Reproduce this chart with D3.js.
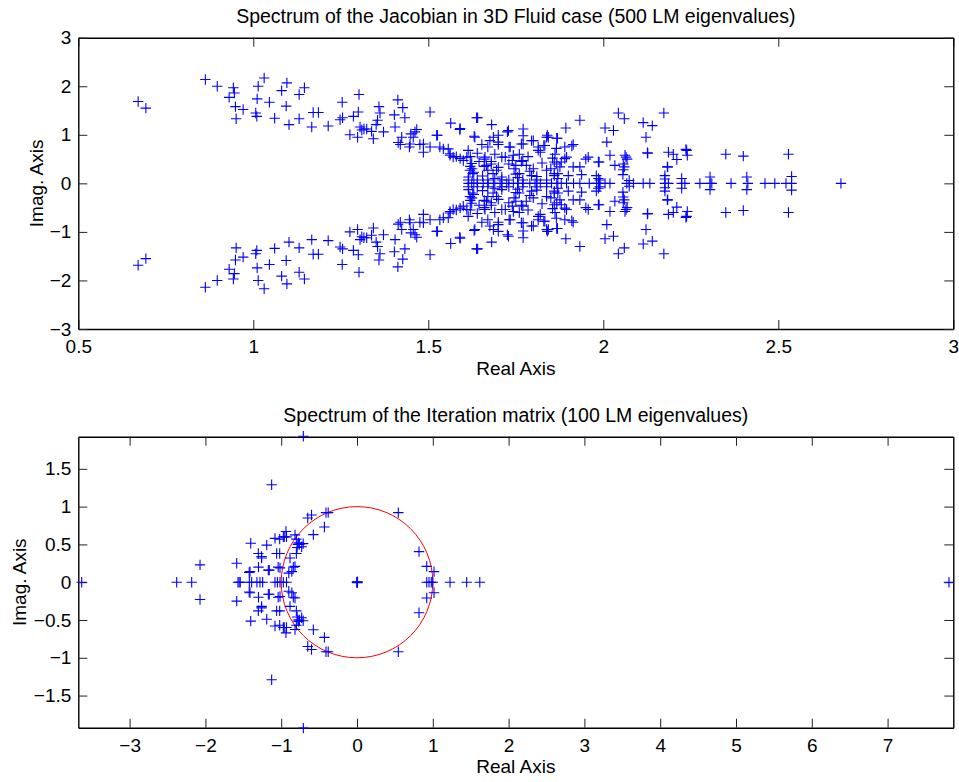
<!DOCTYPE html>
<html>
<head>
  <meta charset="utf-8" />
  <style>
    body { margin: 0; background: #fff; }
    text { font-family: "Liberation Sans", Arial, Helvetica, sans-serif; fill: #000; }
  </style>
</head>
<body>
<svg id="chart" width="959" height="782"></svg>
<script src="https://cdn.jsdelivr.net/npm/d3@7"></script>
<script>

// eigenvalues with positive imaginary part (conjugates are plotted too) + real ones
const jacUpper = [
  [0.671,1.687],[0.693,1.55],[0.863,2.14],[0.897,2.0],[0.943,1.97],[0.931,1.77],[0.946,1.86],[0.949,1.58],
  [0.971,1.52],[0.951,1.33],[1.007,1.45],[1.01,1.38],[1.014,2.0],[1.031,2.17],[1.011,1.74],[1.046,1.67],
  [1.061,1.34],[1.081,1.91],[1.096,2.07],[1.094,1.59],[1.102,1.21],[1.131,1.83],[1.146,1.97],[1.131,1.33],
  [1.167,1.16],[1.171,1.46],[1.186,1.46],[1.214,1.18],[1.254,1.67],[1.248,1.31],[1.255,1.35],[1.302,1.83],
  [1.3,1.47],[1.286,1.38],[1.276,1.0],[1.298,0.95],[1.305,1.16],[1.316,1.12],[1.31,1.1],[1.343,0.92],
  [1.355,1.3],[1.359,1.58],[1.362,1.45],[1.372,1.06],[1.351,1.21],[1.338,1.07],[1.324,1.12],[1.403,1.41],
  [1.413,1.72],[1.427,1.56],[1.433,1.35],[1.405,1.16],[1.414,0.84],[1.424,0.95],[1.42,0.8],[1.446,0.75],
  [1.457,0.95],[1.462,1.06],[1.45,1.02],[1.467,1.11],[1.448,0.81],[1.486,0.81],[1.486,0.64],[1.505,1.47],
  [1.524,0.99],[1.564,1.24],[1.591,1.13],[1.633,0.95],[1.638,1.35],[1.505,0.75],[1.543,0.71],[1.562,0.61],
  [1.571,0.54],[1.591,0.51],[1.61,0.54],[1.624,0.41],[1.619,0.27],[1.615,0.13],[1.627,0.2],
  [2.043,1.45],[2.06,1.33],[2.173,1.45],[2.114,1.25],[2.14,1.19],[2.122,0.95],[1.933,1.3],[1.893,1.14],
  [2.005,1.14],[2.029,1.09],[2.01,0.85],[2.127,0.62],[2.062,0.58],[2.068,0.5],[2.186,0.64],[2.2,0.6],
  [2.21,0.49],[2.238,0.68],[2.24,0.58],[2.35,0.6],[2.4,0.56],[2.529,0.6],[2.184,0.34],[2.176,0.16],
  [2.305,0.13],[2.41,0.13],[2.538,0.14],[1.914,0.8],[1.89,0.75],[1.957,0.54],[1.95,0.5],[1.986,0.44],
  [2.019,0.58],[2.033,0.37],[2.057,0.4],[2.057,0.28],[1.933,0.34],[1.895,0.54],[1.88,0.44],[1.867,0.4],
  [1.862,0.6],[1.867,0.93],[1.843,0.95],[1.814,0.75],[1.83,0.78],[1.82,0.64],[1.8,0.88],[1.771,1.12],
  [1.771,0.98],[1.766,0.81],[1.76,0.6],[1.766,0.45],[1.729,1.09],[1.734,0.75],[1.71,0.54],[1.7,0.85],
  [1.681,1.21],[1.686,0.95],[1.67,0.75],[1.68,0.45],[1.66,0.5],[1.66,0.35],[1.67,0.27],[1.743,0.58],
  [1.75,0.37],[1.75,0.19],[1.8,0.3],[1.838,0.27],[1.86,0.16],[1.87,0.2],[1.98,0.16],[1.99,0.07],
  [1.9,0.16],[1.71,0.13],[1.69,0.1],
  [1.59,1.11],[1.641,1.35],[1.726,1.06],[1.795,0.88],[1.631,0.97],[1.676,0.88],[1.7,0.99],[1.653,0.8],
  [1.70,0.8],[1.731,0.75],[1.771,0.81],[1.814,0.68],[1.833,0.78],[1.838,0.95],[1.526,0.99],[1.533,0.75],
  [1.476,0.8],[1.557,0.71],[1.562,0.58],[1.58,0.55],[1.6,0.47],[1.614,0.68],[1.62,0.55],[1.64,0.62],
  [1.662,0.54],[1.666,0.37],[1.68,0.4],[1.695,0.27],[1.685,0.2],[1.62,0.35],[1.63,0.23],[1.614,0.07],
  [1.64,0.07],[1.72,0.54],[1.73,0.4],[1.745,0.3],[1.76,0.2],[1.77,0.47],[1.78,0.37],[1.79,0.25],
  [1.81,0.07],[1.77,0.07],[1.73,0.07],[1.71,0.07],[1.67,0.07],[1.838,0.07],[1.81,0.14],
  [1.84,0.99],[1.869,0.93],[1.91,0.77],[1.866,0.72],[2.065,0.54],[1.988,0.44],[2.06,0.34],[2.126,0.63],
  [2.236,0.7],[2.183,0.34],[1.914,0.34],[1.938,0.18],[1.89,0.51],[1.876,0.34],[1.86,0.44],[1.86,0.2],
  [1.87,0.1],[1.986,0.1],[2.056,0.18],[2.074,0.06],[2.176,0.09],[2.224,0.1],
  [1.625,0.3],[1.645,0.45],[1.655,0.15],[1.69,0.6],[1.7,0.33],[1.74,0.47],[1.755,0.12],[1.785,0.55],
  [1.795,0.16],[1.825,0.42],[1.85,0.3],[1.855,0.52]
]
const jacReal = [1.615,1.624,1.63,1.64,1.657,1.671,1.686,1.705,1.724,1.743,1.757,1.771,1.79,1.805,1.82,
  1.838,1.852,1.867,1.88,1.895,1.915,1.933,1.96,1.981,1.99,2.005,2.019,2.067,2.086,2.114,2.133,2.176,
  2.186,2.224,2.233,2.276,2.305,2.31,2.365,2.413,2.462,2.49,2.522,2.538,2.679]

const iterUpper = [
  [-2.071,0.229],[-1.587,0.25],[-1.412,0.14],[-1.402,0.515],[-1.302,0.38],[-1.26,0.34],[-1.258,0.32],
  [-1.30,0.2],[-1.191,0.49],[-1.157,0.16],[-1.126,1.29],[-1.082,0.58],[-1.06,0.38],[-1.02,0.38],
  [-1.04,0.2],[-1.016,0.19],[-0.972,0.6],[-0.937,0.67],[-0.93,0.6],[-0.96,0.6],[-1.02,0.57],
  [-0.818,0.626],[-0.8,0.57],[-0.78,0.5],[-0.77,0.52],[-0.76,0.5],[-0.79,0.46],[-0.884,0.32],
  [-0.818,0.21],[-0.9,0.12],[-0.84,0.2],[-0.86,0.14],[-0.73,0.47],[-0.71,0.51],[-0.8,0.38],
  [-0.576,0.63],[-0.43,0.73],[-0.65,0.85],[-0.6,0.89],[-0.409,0.92],[-0.38,0.92],[0.545,0.92],
  [0.818,0.405],[0.92,0.21],[1.016,0.14],[-0.708,1.93],[-1.422,0.13],[-1.17,0.16],[0.004,0.006]
]
const iterReal = [-3.632,-2.379,-2.181,-1.57,-1.555,-1.54,-1.42,-1.39,-1.32,-1.28,-1.245,-1.082,-1.05,
  -1.016,-0.972,-0.93,0,0,0.007,0.92,0.95,0.98,1.0,1.227,1.447,1.62,7.81]

const jacXTicks = [0.5,1,1.5,2,2.5,3]
const jacYTicks = [-3,-2,-1,0,1,2,3]
const iterXTicks = [-3,-2,-1,0,1,2,3,4,5,6,7]
const iterYTicks = [-1.5,-1,-0.5,0,0.5,1,1.5]

const fmt = d => (d < 0 ? '\u2212' : '') + Math.abs(d)

const withConj = (upper, real) =>
  upper.flatMap(([re, im]) => [[re, im], [re, -im]]).concat(real.map(r => [r, 0]))

const svg = d3.select('#chart')

function panel(cfg){
  const x = d3.scaleLinear().domain(cfg.xDomain).range([78.3, 953.3])
  const y = d3.scaleLinear().domain(cfg.yDomain).range([cfg.bottom, cfg.top])
  const g = svg.append('g')
  const tick = 9

  g.append('g').attr('transform', `translate(0,${cfg.bottom})`)
    .call(d3.axisBottom(x).tickValues(cfg.xTicks).tickFormat(fmt).tickSize(-tick).tickSizeOuter(0).tickPadding(10.5))
  g.append('g').attr('transform', `translate(0,${cfg.top})`)
    .call(d3.axisTop(x).tickValues(cfg.xTicks).tickFormat('').tickSize(-tick).tickSizeOuter(0))
  g.append('g').attr('transform', `translate(78.3,0)`)
    .call(d3.axisLeft(y).tickValues(cfg.yTicks).tickFormat(fmt).tickSize(-tick).tickSizeOuter(0).tickPadding(7))
  g.append('g').attr('transform', `translate(953.3,0)`)
    .call(d3.axisRight(y).tickValues(cfg.yTicks).tickFormat('').tickSize(-tick).tickSizeOuter(0))

  g.selectAll('.domain').attr('stroke', '#000').attr('stroke-width', 1.4)
  g.selectAll('.tick line').attr('stroke', '#222')
  g.selectAll('.tick text').style('font-size', '19px').attr('fill', '#000')
    .style('font-family', '"Liberation Sans", Arial, Helvetica, sans-serif')

  if (cfg.circle) {
    g.append('ellipse')
      .attr('cx', x(0)).attr('cy', y(0))
      .attr('rx', x(1) - x(0)).attr('ry', y(0) - y(1))
      .attr('fill', 'none').attr('stroke', '#ff0000').attr('stroke-width', 1)
  }

  const r = 5.2
  g.append('g').selectAll('path').data(cfg.points).join('path')
    .attr('d', d => {
      const px = x(d[0]), py = y(d[1])
      return `M${px - r},${py}H${px + r}M${px},${py - r}V${py + r}`
    })
    .attr('stroke', '#0000ff').attr('stroke-width', 1.1).attr('fill', 'none')

  g.append('text').attr('x', 515.8).attr('y', cfg.titleY).attr('text-anchor', 'middle')
    .style('font-size', '19.5px').text(cfg.title)
  g.append('text').attr('x', 515.8).attr('y', cfg.xLabelY).attr('text-anchor', 'middle')
    .style('font-size', '19px').text('Real Axis')
  g.append('text').attr('transform', `translate(${cfg.yLabelX},${(cfg.top + cfg.bottom) / 2}) rotate(-90)`)
    .attr('text-anchor', 'middle').style('font-size', '19px').text('Imag. Axis')
}

panel({
  title: 'Spectrum of the Jacobian in 3D Fluid case (500 LM eigenvalues)',
  xDomain: [0.5, 3], yDomain: [-3, 3],
  xTicks: jacXTicks, yTicks: jacYTicks,
  top: 37.7, bottom: 329,
  titleY: 22.5, xLabelY: 375, yLabelX: 42.7,
  points: withConj(jacUpper, jacReal)
})

panel({
  title: 'Spectrum of the Iteration matrix (100 LM eigenvalues)',
  xDomain: [-3.677, 7.867], yDomain: [-1.925, 1.925],
  xTicks: iterXTicks, yTicks: iterYTicks,
  top: 436.7, bottom: 727.7,
  titleY: 421.5, xLabelY: 773, yLabelX: 26,
  circle: true,
  points: withConj(iterUpper, iterReal)
})

</script>
</body>
</html>
